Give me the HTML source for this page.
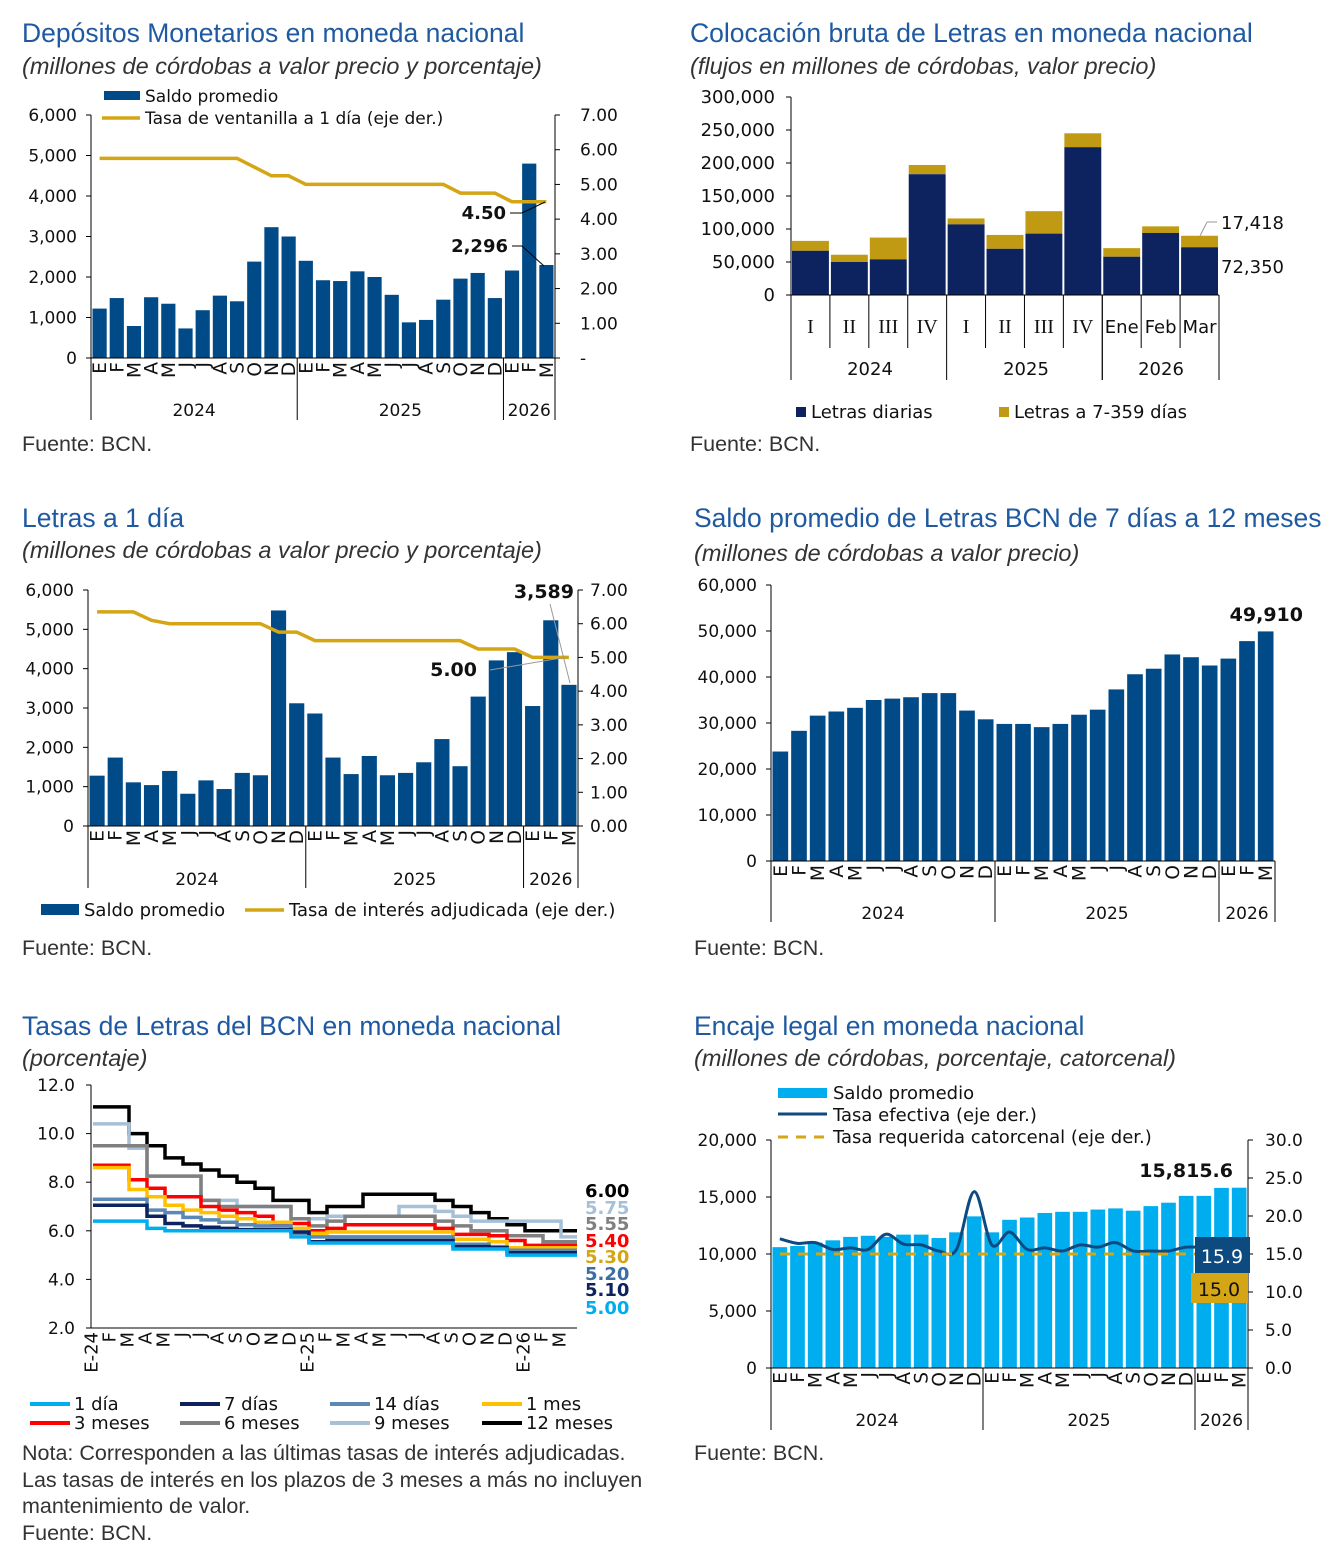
<!DOCTYPE html><html><head><meta charset="utf-8"><style>
body{margin:0;background:#fff;width:1324px;height:1555px;overflow:hidden;position:relative;font-family:"DejaVu Sans","Liberation Sans",sans-serif}
.t{position:absolute;color:#1f5aa0;font-family:"Liberation Sans",sans-serif;font-size:26.5px;white-space:nowrap}
.s{position:absolute;color:#333;font-family:"Liberation Sans",sans-serif;font-style:italic;font-size:23.5px;white-space:nowrap}
.f{position:absolute;color:#333;font-family:"Liberation Sans",sans-serif;font-size:21.5px;white-space:nowrap;line-height:26.5px}
svg{position:absolute;left:0;top:0}
</style></head><body>
<div class="t" style="left:22px;top:18px">Depósitos Monetarios en moneda nacional</div>
<div class="s" style="left:22px;top:53px">(millones de córdobas a valor precio y porcentaje)</div>
<div class="f" style="left:22px;top:431px">Fuente: BCN.</div>
<div class="t" style="left:690px;top:18px">Colocación bruta de Letras en moneda nacional</div>
<div class="s" style="left:690px;top:53px">(flujos en millones de córdobas, valor precio)</div>
<div class="f" style="left:690px;top:431px">Fuente: BCN.</div>
<div class="t" style="left:22px;top:503px">Letras a 1 día</div>
<div class="s" style="left:22px;top:537px">(millones de córdobas a valor precio y porcentaje)</div>
<div class="f" style="left:22px;top:935px">Fuente: BCN.</div>
<div class="t" style="left:694px;top:503px">Saldo promedio de Letras BCN de 7 días a 12 meses</div>
<div class="s" style="left:694px;top:540px">(millones de córdobas a valor precio)</div>
<div class="f" style="left:694px;top:935px">Fuente: BCN.</div>
<div class="t" style="left:22px;top:1011px">Tasas de Letras del BCN en moneda nacional</div>
<div class="s" style="left:22px;top:1045px">(porcentaje)</div>
<div class="f" style="left:22px;top:1440px">Nota: Corresponden a las últimas tasas de interés adjudicadas.<br>Las tasas de interés en los plazos de 3 meses a más no incluyen<br>mantenimiento de valor.<br>Fuente: BCN.</div>
<div class="t" style="left:694px;top:1011px">Encaje legal en moneda nacional</div>
<div class="s" style="left:694px;top:1045px">(millones de córdobas, porcentaje, catorcenal)</div>
<div class="f" style="left:694px;top:1440px">Fuente: BCN.</div>
<svg id="g" width="1324" height="1555" xmlns="http://www.w3.org/2000/svg" font-family="DejaVu Sans, Liberation Sans, sans-serif" font-size="17" fill="#111"></svg>
<script>
var o='';
function T(x,y,s,a,ex){o+='<text x="'+x+'" y="'+y+'" text-anchor="'+(a||'start')+'" '+(ex||'')+'>'+s+'</text>';}
function L(x1,y1,x2,y2,c,w,ex){o+='<line x1="'+x1+'" y1="'+y1+'" x2="'+x2+'" y2="'+y2+'" stroke="'+(c||'#000')+'" stroke-width="'+(w||1)+'" '+(ex||'')+'/>';}
function R(x,y,w,h,c){o+='<rect x="'+x+'" y="'+y+'" width="'+w+'" height="'+h+'" fill="'+c+'"/>';}
function P(pts,c,w,ex){o+='<polyline points="'+pts.map(p=>p[0].toFixed(1)+','+p[1].toFixed(1)).join(' ')+'" fill="none" stroke="'+c+'" stroke-width="'+w+'" '+(ex||'')+'/>';}
var M='EFMAMJJASONDEFMAMJJASONDEFM'.split('');
function fmt(n){return n.toLocaleString('en-US');}
function chart(c){
 var n=27,bw=(c.x1-c.x0)/n;
 L(c.x0,c.yT,c.x0,c.y0);
 for(var i=0;i<c.lt.length;i++){var v=c.lt[i],y=c.y0-(v/c.lmax)*(c.y0-c.yT);L(c.x0-5,y,c.x0,y);T(c.x0-14,y+6,fmt(v),'end');}
 for(var i=0;i<n;i++){var h=c.v[i]/c.lmax*(c.y0-c.yT);R(c.x0+i*bw+1.5,c.y0-h,bw-3,h,c.col);}
 L(c.x0,c.y0,c.x1,c.y0);
 for(var i=0;i<n;i++){var cx=c.x0+(i+.5)*bw;o+='<text transform="translate('+(cx+6.5)+','+(c.y0+4)+') rotate(-90)" text-anchor="end" font-size="18.5">'+M[i]+'</text>';}
 [0,12,24,27].forEach(function(k){L(c.x0+k*bw,c.y0,c.x0+k*bw,c.yb);});
 T(c.x0+6*bw,c.yy,'2024','middle');T(c.x0+18*bw,c.yy,'2025','middle');T(c.x0+25.5*bw,c.yy,'2026','middle');
 return bw;
}
var c1={x0:91,x1:555,y0:358,yT:115,yb:420,yy:416,lmax:6000,lt:[0,1000,2000,3000,4000,5000,6000],col:'#004a87',
v:[1220,1480,790,1500,1340,730,1180,1540,1400,2380,3230,3000,2400,1920,1900,2140,2000,1560,880,940,1440,1960,2100,1480,2160,4800,2296]};
var bw=chart(c1);
L(555,115,555,358);
['-','1.00','2.00','3.00','4.00','5.00','6.00','7.00'].forEach(function(s,i){var y=358-i*(243/7);L(555,y,560,y);T(580,y+6,s);});
var r1=[5.75,5.75,5.75,5.75,5.75,5.75,5.75,5.75,5.75,5.5,5.25,5.25,5.0,5,5,5,5,5,5,5,5,4.75,4.75,4.75,4.5,4.5,4.5];
P(r1.map((v,i)=>[91+(i+.5)*bw,358-v/7*243]),'#d4a514',3.5);
R(104,91,36,9,'#004a87');T(145,102,'Saldo promedio');
L(102,118,140,118,'#d4a514',3.5);T(145,124,'Tasa de ventanilla a 1 día (eje der.)');
T(506,219,'4.50','end','font-weight="bold" font-size="18"');L(510,213,522,213);L(522,213,545,202);
T(508,252,'2,296','end','font-weight="bold" font-size="18"');L(512,246,522,246);L(522,246,544,266);
(function(){
 var x0=791,y0=295,yT=97,bw=(1219-791)/11,s=(y0-yT)/300000;
 L(x0,yT,x0,y0);
 for(var v=0;v<=300000;v+=50000){var y=y0-v*s;L(x0-5,y,x0,y);T(x0-16,y+6,fmt(v),'end','font-size="18"');}
 var d=[67,50,54,183,107,70,93,224,58,94,72.35],t=[82,61,87,197,116,91,127,245,71,104,89.77];
 for(var i=0;i<11;i++){var x=x0+i*bw+1;R(x,y0-t[i]*1000*s,bw-2,(t[i]-d[i])*1000*s,'#c09a12');R(x,y0-d[i]*1000*s,bw-2,d[i]*1000*s,'#0c2360');}
 L(x0,y0,1219,y0);
 var lab=['I','II','III','IV','I','II','III','IV','Ene','Feb','Mar'];
 for(var i=0;i<11;i++){T(x0+(i+.5)*bw,333,lab[i],'middle',(i<8?'font-family="Liberation Serif, serif" font-size="20"':'font-size="18"'));L(x0+i*bw,y0,x0+i*bw,i%4==0&&i<9?380:348);}
 L(x0+8*bw,y0,x0+8*bw,380);L(1219,y0,1219,380);
 T(870,375,'2024','middle','font-size="18"');T(1026,375,'2025','middle','font-size="18"');T(1161,375,'2026','middle','font-size="18"');
 T(1221,229,'17,418','start','font-size="18"');L(1207,222,1217,222,'#999');L(1207,222,1200,236,'#999');
 T(1221,273,'72,350','start','font-size="18"');
 R(796,407,10,10,'#0c2360');T(811,418,'Letras diarias','start','font-size="18"');
 R(999,407,10,10,'#c09a12');T(1014,418,'Letras a  7-359 días','start','font-size="18"');
})();
var c3={x0:88,x1:578,y0:826,yT:590,yb:888,yy:885,lmax:6000,lt:[0,1000,2000,3000,4000,5000,6000],col:'#004a87',
v:[1280,1740,1110,1040,1400,820,1160,940,1350,1290,5480,3120,2860,1740,1320,1780,1290,1350,1620,2210,1520,3290,4210,4420,3050,5230,3589]};
bw=chart(c3);
L(578,590,578,826);
for(var i=0;i<=7;i++){var y=826-i*236/7;L(578,y,583,y);T(590,y+6,i.toFixed(2));}
var r3=[6.35,6.35,6.35,6.1,6,6,6,6,6,6,5.75,5.75,5.5,5.5,5.5,5.5,5.5,5.5,5.5,5.5,5.5,5.25,5.25,5.25,5,5,5];
P(r3.map((v,i)=>[88+(i+.5)*bw,826-v/7*236]),'#d4a514',3.5);
T(574,598,'3,589','end','font-weight="bold" font-size="19"');L(550,604,570,683,'#999');
T(477,676,'5.00','end','font-weight="bold" font-size="19"');L(490,670,567,657,'#999');
R(41,904,38,11,'#004a87');T(84,916,'Saldo promedio','start','font-size="18"');
L(245,910,284,910,'#d4a514',3.5);T(289,916,'Tasa de interés adjudicada (eje der.)','start','font-size="18"');
var c4={x0:771,x1:1275,y0:861,yT:585,yb:922,yy:919,lmax:60000,lt:[0,10000,20000,30000,40000,50000,60000],col:'#004a87',
v:[23800,28300,31600,32500,33300,35000,35300,35600,36500,36500,32700,30800,29800,29800,29100,29800,31800,32900,37300,40600,41800,44900,44300,42500,44000,47800,49910]};
chart(c4);
T(1303,621,'49,910','end','font-weight="bold" font-size="19"');
var c6={x0:771,x1:1248,y0:1368,yT:1140,yb:1430,yy:1426,lmax:20000,lt:[0,5000,10000,15000,20000],col:'#00aeef',
v:[10600,10700,11000,11200,11500,11600,11500,11700,11700,11400,11900,13300,11900,13000,13200,13600,13700,13700,13900,14000,13800,14200,14500,15100,15100,15800,15816]};
bw=chart(c6);
L(1248,1140,1248,1368);
for(var i=0;i<=6;i++){var y=1368-i*228/6;L(1248,y,1253,y);T(1265,y+6,(i*5).toFixed(1));}
var r6=[17.0,16.4,16.5,15.6,15.8,15.6,17.6,16.3,16.2,15.4,15.6,23.2,16.2,17.9,15.6,15.8,15.4,16.2,15.9,16.5,15.4,15.4,15.4,15.9,15.9,16.2,15.9];
(function(){var pts=r6.map((v,i)=>[771+(i+.5)*bw,1368-v/30*228]);var d='M'+pts[0][0]+','+pts[0][1];
for(var i=1;i<pts.length;i++){var p0=pts[i-2]||pts[i-1],p1=pts[i-1],p2=pts[i],p3=pts[i+1]||p2;d+=' C'+(p1[0]+(p2[0]-p0[0])/6)+','+(p1[1]+(p2[1]-p0[1])/6)+' '+(p2[0]-(p3[0]-p1[0])/6)+','+(p2[1]-(p3[1]-p1[1])/6)+' '+p2[0]+','+p2[1];}
o+='<path d="'+d+'" fill="none" stroke="#0d4a80" stroke-width="3"/>';})();
L(780,1254,1240,1254,'#d4a514',3,'stroke-dasharray="10,8"');
R(778,1088,49,10,'#00aeef');T(833,1099,'Saldo promedio','start','font-size="18"');
L(778,1114,827,1114,'#0d4a80',3);T(833,1121,'Tasa efectiva (eje der.)','start','font-size="18"');
L(778,1137,827,1137,'#d4a514',3,'stroke-dasharray="10,8"');T(833,1143,'Tasa requerida catorcenal (eje der.)','start','font-size="18"');
T(1233,1177,'15,815.6','end','font-weight="bold" font-size="19"');
L(1228,1245,1240,1262,'#aaa');L(1210,1273,1240,1254,'#aaa');
R(1195,1237,55,36,'#0d4a80');o+='<text x="1222" y="1263" text-anchor="middle" fill="#fff" font-size="19">15.9</text>';
o+='<rect x="1191" y="1273" width="57" height="30" fill="#d4a514"/><text x="1219" y="1296" text-anchor="middle" font-size="19">15.0</text>';
(function(){
 var x0=91,x1=577,y0=1328,yT=1085,mw=18,s=(y0-yT)/10;
 L(x0,yT,x0,y0);L(x0,y0,x1,y0);
 for(var v=2;v<=12;v+=2){var y=y0-(v-2)*s;L(x0-5,y,x0,y);T(x0-16,y+6,v.toFixed(1),'end');}
 var lbl=['E-24','F','M','A','M','J','J','A','S','O','N','D','E-25','F','M','A','M','J','J','A','S','O','N','D','E-26','F','M'];
 for(var i=0;i<27;i++){o+='<text transform="translate('+(x0+i*mw+6.5)+','+(y0+4)+') rotate(-90)" text-anchor="end" font-size="18">'+lbl[i]+'</text>';}
 var S=[
 ['#00aeef',[6.4,6.4,6.4,6.1,6.0,6,6,6,6,6,6,5.75,5.5,5.5,5.5,5.5,5.5,5.5,5.5,5.5,5.25,5.25,5.25,5.0,5,5,5]],
 ['#0c2360',[7.05,7.05,7.05,6.6,6.3,6.2,6.15,6.1,6.05,6.05,6.05,5.95,5.55,5.6,5.6,5.6,5.6,5.6,5.6,5.6,5.35,5.35,5.3,5.1,5.1,5.1,5.1]],
 ['#5b88b5',[7.3,7.3,7.3,6.85,6.75,6.55,6.45,6.35,6.25,6.2,6.2,5.9,5.75,5.75,5.75,5.75,5.75,5.75,5.75,5.75,5.45,5.45,5.35,5.2,5.2,5.2,5.2]],
 ['#ffc000',[8.6,8.6,7.7,7.4,7.05,6.85,6.75,6.6,6.5,6.35,6.35,6.1,5.9,5.95,5.95,5.95,5.95,5.95,5.95,5.95,5.65,5.65,5.55,5.3,5.3,5.3,5.3]],
 ['#ff0000',[8.7,8.7,8.1,7.75,7.4,7.4,7.0,6.85,6.75,6.6,6.3,6.3,6.0,6.1,6.25,6.25,6.25,6.25,6.25,6.1,5.85,5.85,5.8,5.6,5.4,5.4,5.4]],
 ['#808080',[9.5,9.5,9.5,8.25,8.25,8.25,7.25,7.0,7.0,7.0,7.0,6.5,6.2,6.4,6.6,6.6,6.6,6.6,6.6,6.4,6.2,6.0,6.0,5.8,5.8,5.55,5.55]],
 ['#a6c0d8',[10.4,10.4,9.4,8.25,8.25,8.25,7.25,7.25,7.0,7.0,7.0,6.5,6.5,6.6,6.6,6.6,6.6,7.0,7.0,6.8,6.6,6.4,6.4,6.4,6.4,6.4,5.75]],
 ['#000000',[11.1,11.1,10.0,9.5,9.0,8.75,8.5,8.25,8.0,7.75,7.25,7.25,6.75,7.0,7.0,7.5,7.5,7.5,7.5,7.25,7.0,6.75,6.5,6.25,6.0,6.0,6.0]]];
 S.slice().reverse().forEach(function(sr){var pts=[],v=sr[1];for(var i=0;i<27;i++){var y=y0-(v[i]-2)*s;pts.push([x0+i*mw+2,y]);pts.push([x0+(i+1)*mw+2,y]);}pts[pts.length-1][0]=x1;P(pts,sr[0],3.5);});
 var lv=[['6.00','#000',1197],['5.75','#a6c0d8',1214],['5.55','#808080',1230],['5.40','#ff0000',1247],['5.30','#d4a514',1263],['5.20','#3a6ea5',1280],['5.10','#0c2360',1296],['5.00','#00aeef',1314]];
 lv.forEach(function(a){o+='<text x="585" y="'+a[2]+'" font-weight="bold" font-size="18" fill="'+a[1]+'">'+a[0]+'</text>';});
 var lg=[['#00aeef','1 día',30,1404],['#0c2360','7 días',180,1404],['#5b88b5','14 días',330,1404],['#ffc000','1 mes',482,1404],['#ff0000','3 meses',30,1423],['#808080','6 meses',180,1423],['#a6c0d8','9 meses',330,1423],['#000','12 meses',482,1423]];
 lg.forEach(function(a){L(a[2],a[3],a[2]+40,a[3],a[0],4);T(a[2]+44,a[3]+6,a[1],'start','font-size="18"');});
})();
document.getElementById('g').innerHTML=o;
</script>
</body></html>
